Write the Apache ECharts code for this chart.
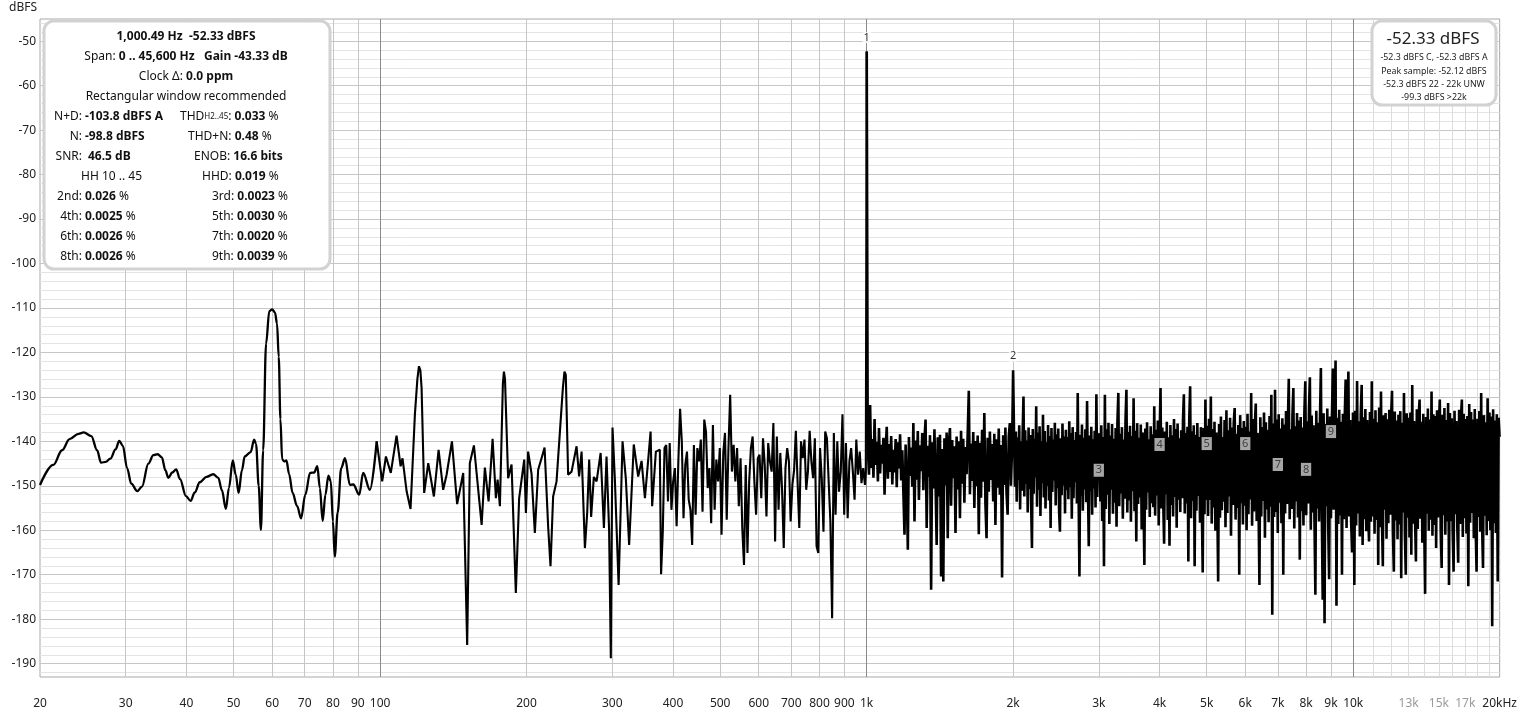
<!DOCTYPE html>
<html><head><meta charset="utf-8">
<script src="https://cdn.jsdelivr.net/npm/echarts@6/dist/echarts.min.js"></script>
<style>html,body{margin:0;padding:0;background:#fff}#c{width:1520px;height:714px}</style>
</head><body><div id="c"></div>
<script>
// ---------- axis ticks ----------
const xTickHz = [20,30,40,50,60,70,80,90,100,200,300,400,500,600,700,800,900,1000,2000,3000,4000,5000,6000,7000,8000,9000,10000,13000,15000,17000,20000];
const xTickText = ['20','30','40','50','60','70','80','90','100','200','300','400','500','600','700','800','900','1k','2k','3k','4k','5k','6k','7k','8k','9k','10k','13k','15k','17k','20kHz'];
const xGrayTicks = [13000,15000,17000];
const xGridHz = [30,40,50,60,70,80,90,200,300,400,500,600,700,800,900,2000,3000,4000,5000,6000,7000,8000,9000];
const xFineGridHz = [11000,12000,13000,14000,15000,16000,17000,18000,19000];
const xDecadeHz = [100,1000,10000];
const yTicks = [-190,-180,-170,-160,-150,-140,-130,-120,-110,-100,-90,-80,-70,-60,-50];

// ---------- spectrum data (Hz, dBFS) ----------
const lowBand = [
[20,-149.8],[21.3,-145.3],[22.2,-142.0],[23.0,-139.5],[24.0,-138.3],[24.6,-138.0],[25.5,-138.8],[26.2,-142.0],[26.7,-144.8],[27.3,-144.6],
[27.9,-143.9],[28.6,-141.8],[29.1,-139.9],[29.6,-141.0],[30.2,-146.0],[30.8,-149.5],[31.7,-151.2],[32.4,-150.2],[33.4,-145.0],[34.2,-143.1],
[34.9,-142.9],[35.6,-143.6],[36.2,-146.5],[36.7,-148.2],[37.4,-147.0],[38.1,-146.3],[38.8,-148.5],[39.9,-152.3],[40.8,-153.4],[41.6,-151.5],
[42.6,-149.2],[44.0,-148.0],[45.4,-147.4],[46.5,-148.2],[47.3,-151.0],[48.2,-155.2],[48.9,-150.5],[49.8,-144.3],[50.5,-147.5],[51.2,-151.6],
[52.0,-146.5],[52.7,-143.4],[54.2,-142.4],[55.1,-139.6],[55.6,-140.6],[56.3,-150.0],[56.9,-159.9],[57.5,-142.0],[58.3,-118.0],[59.2,-110.7],
[60.0,-110.3],[60.8,-111.0],[61.4,-113.5],[61.9,-121.0],[62.4,-135.0],[62.9,-144.0],[63.5,-144.5],[64.2,-144.3],[65.0,-147.3],[66.1,-151.6],[67.5,-154.5],
[68.8,-157.3],[70.2,-152.0],[71.8,-147.1],[73.2,-147.0],[74.3,-145.6],[75.2,-150.5],[76.2,-157.9],[77.2,-152.0],[78.3,-147.7],[79.2,-149.0],
[80.0,-158.0],[80.7,-165.9],[81.8,-156.0],[83.2,-146.0],[84.7,-143.8],[86.7,-149.8],[88.1,-149.7],[90.6,-152.0],[92.3,-147.1],[95.3,-150.9],
[98.4,-140.0]
];
const midBand = [
[98.4,-140.0],[101,-149.0],[102.8,-143.4],[105.2,-147.1],[108.1,-138.7],[110.2,-145.6],[111.2,-143.8],[113.4,-151.3],[115.5,-155.2],[117.9,-134.0],
[119.3,-126.0],[120.2,-123.1],[121.0,-124.0],[121.7,-128.0],[123.2,-151.6],[125.6,-144.9],[129.0,-152.4],[131.9,-141.9],[134.8,-150.9],[137.0,-147.5],
[140.5,-140.0],[144.0,-154.1],[148.2,-147.1],[151.0,-185.8],[152.9,-144.9],[155.9,-140.9],[161.7,-158.8],[164.2,-145.9],[167.1,-153.5],[170.3,-139.4],
[173.0,-152.8],[174.4,-148.6],[176.3,-154.6],[178.8,-127.0],[179.7,-124.3],[180.6,-126.0],[183.3,-148.3],[186.3,-145.2],[190.1,-174.1],[193.1,-152.8],
[197.8,-144.1],[199.4,-156.1],[201.5,-142.3],[204.8,-147.3],[208.0,-160.6],[211.3,-146.4],[214.7,-143.8],[217.8,-141.4],[221.5,-159.1],[224.0,-168.1],
[226.8,-152.4],[230.5,-149.0],[234.2,-137.8],[237.5,-128.0],[239.3,-124.3],[240.8,-125.0],[242.0,-135.0],[243.5,-147.5],[247.5,-146.8],[253.4,-141.1],
[256.5,-147.9],[259.5,-142.3],[263.6,-164.0],[266.5,-156.0],[269.0,-144.1],[271.5,-157.0],[275.0,-148.0],[278.6,-149.0],[284.0,-142.6],[288.4,-159.5],
[292.0,-143.4],[295.6,-160.0],[298.0,-188.8],[300.4,-136.9],[303.7,-148.3],[309.2,-172.3],[315.0,-140.0],[320.0,-148.5],[325.0,-163.3],[332.2,-140.7],
[339.2,-147.9],[344.7,-144.4],[350.2,-152.8],[359.7,-137.8],[362.4,-154.6],[368.8,-142.3],[375.8,-141.9]
];
// dense bands: dBFS readings, evenly spread (log f) over each range
const band1Range = [378, 992];
const band1Db = [
-169.9,-160.3,-141.5,-140.8,-153.5,-140.4,-155.4,-149.0,-146.0,-159.1,
-144.5,-132.7,-140.0,-157.3,-145.3,-142.3,-153.1,-155.4,-163.3,-140.8,
-156.5,-141.5,-144.5,-139.6,-155.8,-135.1,-137.8,-150.5,-146.0,-158.4,
-136.3,-155.4,-144.1,-149.0,-141.5,-161.0,-142.6,-138.1,-157.6,-141.5,
-129.5,-146.8,-140.8,-149.0,-141.5,-154.6,-143.8,-159.5,-167.8,-145.3,
-165.1,-149.0,-141.5,-138.9,-149.0,-156.5,-143.8,-143.0,-152.8,-139.3,
-145.3,-156.9,-140.4,-144.5,-146.8,-135.9,-162.5,-138.9,-155.4,-142.6,
-150.5,-164.0,-146.0,-141.5,-144.5,-158.0,-149.8,-146.4,-137.6,-149.0,
-159.5,-140.0,-143.8,-139.6,-150.9,-146.8,-137.6,-144.5,-148.3,-139.3,
-163.6,-165.1,-141.5,-148.3,-160.3,-137.8,-139.3,-149.0,-158.0,-179.8,
-138.1,-156.5,-140.0,-151.3,-146.8,-133.9,-156.5,-140.4,-157.3,-144.5,
-141.5,-146.8,-153.1,-139.6,-147.5,-142.3,-149.4,-146.0,-149.8
];
const fundamental = [[996,-147.0],[1000.49,-52.33],[1005,-141.0]];
const band2Range = [1006, 1990];
const band2Db = [
-141.2,-147.5,-131.8,-146.0,-139.5,-148.2,-135.0,-145.3,-140.1,-149.0,
-137.0,-147.2,-140.8,-145.0,-139.2,-152.0,-141.5,-136.7,-148.4,-140.6,
-146.9,-138.8,-149.7,-141.9,-147.0,-139.5,-150.3,-140.2,-146.1,-138.4,
-148.8,-142.0,-151.6,-161.0,-140.7,-149.3,-164.4,-139.0,-147.8,-141.4,
-150.2,-135.9,-158.0,-139.8,-148.6,-137.7,-153.2,-140.9,-146.7,-138.1,
-151.0,-139.6,-135.1,-159.5,-141.0,-148.0,-138.6,-173.4,-140.2,-150.6,
-137.3,-149.2,-163.3,-139.1,-152.4,-138.5,-170.4,-141.7,-171.5,-139.3,
-149.9,-138.0,-161.8,-140.4,-137.0,-154.5,-139.7,-148.3,-141.1,-160.6,
-138.9,-150.8,-140.0,-157.3,-137.6,-149.5,-139.4,-153.8,-141.3,-147.4,
-138.2,-128.6,-151.9,-140.5,-148.9,-137.9,-155.0,-139.9,-150.1,-138.7,
-160.9,-140.3,-152.7,-137.4,-149.1,-133.6,-154.2,-161.8,-139.2,-151.3,
-137.8,-148.7,-140.6,-153.5,-138.3,-158.8,-139.5,-150.4,-137.1,-152.0,
-140.8,-170.6,-138.6,-149.8,-136.9,-151.5,-156.5,-139.0,-135.9,-150.0,-141.5
];
const secondHarmonic = [[2000,-124.0]];
const band3Range = [2010, 2990];
const band3Db = [
-140.5,-150.2,-137.8,-153.6,-139.1,-148.7,-136.4,-155.3,-140.0,-151.1,
-138.2,-129.9,-152.4,-137.5,-149.6,-139.8,-156.0,-136.9,-150.7,-138.6,
-153.9,-164.0,-137.2,-151.8,-139.4,-148.1,-132.1,-154.7,-138.0,-150.9,
-136.6,-156.8,-139.9,-149.4,-134.0,-152.6,-137.7,-155.1,-140.2,-150.0,
-136.3,-153.3,-138.8,-159.5,-137.0,-151.4,-139.6,-148.8,-135.8,-154.4,
-138.4,-150.5,-137.1,-155.7,-160.3,-139.3,-152.1,-136.0,-149.9,-138.9,
-156.2,-137.4,-151.0,-139.0,-153.0,-135.5,-150.3,-138.1,-157.4,-136.8,
-152.8,-139.7,-149.2,-137.9,-154.0,-129.1,-151.6,-170.4,-138.5,-152.3,
-136.2,-155.6,-139.2,-150.8,-137.3,-153.7,-130.9,-149.5,-163.6,-138.7,
-151.2,-136.7,-156.5,-139.5,-150.6,-137.6,-154.9,-129.4,-152.5,-139.8
];
const band4aRange = [3010, 4990];
const band4aDb = [
-138.2,-153.5,-136.4,-157.9,-139.0,-168.1,-129.5,-155.2,-137.3,-152.0,
-135.8,-158.6,-138.7,-150.9,-136.1,-156.3,-139.4,-153.8,-137.0,-159.2,
-135.5,-129.1,-154.6,-138.3,-151.7,-136.8,-157.4,-139.6,-152.9,-135.2,
-128.4,-156.0,-137.9,-153.3,-136.5,-158.1,-138.8,-151.2,-130.3,-155.7,
-137.6,-162.5,-135.9,-154.1,-139.2,-152.6,-136.2,-159.8,-138.0,-153.0,
-167.8,-137.1,-155.4,-135.7,-151.5,-139.5,-157.0,-136.6,-153.9,-138.4,
-154.8,-132.1,-156.7,-137.4,-152.2,-135.3,-158.9,-138.9,-128.0,-155.1,
-136.9,-153.6,-163.0,-137.8,-151.9,-135.6,-157.7,-139.1,-163.5,-136.3,
-154.3,-138.6,-156.9,-135.0,-152.5,-137.2,-159.4,-136.0,-153.1,-139.3,
-155.9,-137.5,-152.8,-135.4,-129.4,-156.2,-138.1,-154.0,-136.7,-167.0,
-135.1,-127.6,-157.3,-137.7,-153.4,-136.4,-168.1,-138.5,-155.6,-135.9,
-152.3,-139.0,-158.3,-136.8,-154.7,-169.5,-137.0,-156.4,-130.6,-153.2
];
const band4bRange = [5010, 9990];
const band4bDb = [
-136.5,-156.8,-134.9,-153.2,-129.9,-158.5,-137.2,-154.9,-135.6,-160.1,
-138.0,-152.7,-171.5,-136.1,-157.2,-134.4,-155.5,-139.0,-153.6,-135.2,
-159.3,-133.0,-156.1,-137.5,-152.4,-134.7,-161.2,-136.9,-154.3,-135.8,
-132.5,-157.6,-138.3,-155.0,-136.3,-170.0,-134.1,-153.9,-137.0,-158.7,
-135.4,-154.5,-136.7,-160.0,-133.8,-156.4,-137.8,-153.1,-129.1,-159.0,
-135.0,-155.8,-136.4,-131.5,-157.9,-138.1,-154.2,-172.3,-134.6,-156.9,
-136.8,-153.4,-133.5,-161.7,-135.7,-155.3,-137.4,-158.2,-134.3,-154.7,
-129.5,-179.0,-136.0,-157.0,-128.4,-155.9,-135.1,-160.6,-133.9,-153.8,
-137.1,-158.4,-134.8,-170.0,-136.2,-156.2,-133.2,-154.1,-135.9,-125.9,
-157.5,-137.3,-155.2,-134.0,-128.0,-159.6,-136.6,-153.5,-133.6,-157.1,
-135.3,-166.6,-134.5,-155.7,-136.9,-158.9,-133.4,-126.5,-156.6,-135.5,
-154.0,-132.8,-125.6,-159.9,-134.2,-156.0,-136.4,-157.8,-174.5,-133.1,
-155.1,-135.8,-158.0,-134.9,-123.5,-156.3,-175.6,-133.7,-180.9,-136.1,
-154.6,-132.6,-159.2,-171.0,-134.4,-157.3,-135.0,-123.6,-155.4,-133.3,
-121.8,-177.0,-134.7,-158.6,-132.9,-156.7,-135.6,-170.0,-133.8,-157.5,
-134.6,-126.1,-159.5,-133.0,-124.3,-156.9,-135.2,-158.1,-165.0,-133.5
];
const band4cRange = [10010, 19990];
const band4cDb = [
-134.8,-172.3,-133.1,-158.9,-126.4,-156.2,-135.5,-161.4,-133.9,-127.3,
-163.3,-134.6,-157.5,-132.7,-160.2,-135.2,-155.8,-162.5,-133.4,-158.1,
-126.5,-156.9,-134.9,-160.8,-133.0,-157.7,-135.7,-167.8,-132.4,-159.3,
-128.8,-157.0,-168.1,-134.1,-155.4,-133.6,-161.9,-135.0,-158.4,-132.9,
-156.5,-134.4,-128.6,-160.5,-169.3,-133.3,-157.8,-135.3,-162.0,-134.0,
-158.7,-133.2,-170.8,-135.8,-156.0,-129.1,-160.9,-170.0,-133.7,-157.2,
-134.7,-161.6,-133.5,-165.5,-127.3,-158.5,-135.4,-156.8,-167.0,-132.8,
-159.7,-134.2,-130.6,-157.4,-135.6,-162.8,-133.8,-158.2,-174.3,-134.5,
-156.3,-132.6,-160.1,-135.1,-157.6,-128.8,-161.2,-133.9,-158.8,-134.3,
-164.0,-133.0,-157.1,-135.9,-130.6,-159.8,-168.5,-134.0,-156.6,-132.5,
-161.0,-135.2,-158.0,-131.4,-172.3,-133.6,-157.9,-134.8,-160.4,-169.3,
-133.1,-156.4,-135.4,-159.1,-167.3,-132.9,-158.6,-134.6,-130.6,-161.5,
-133.8,-157.3,-135.0,-160.7,-134.3,-172.6,-131.6,-158.3,-133.4,-156.1,
-135.1,-161.8,-132.7,-159.4,-169.3,-134.9,-157.0,-133.2,-160.3,-129.1,
-158.9,-168.5,-134.1,-156.7,-135.7,-161.1,-130.3,-157.9,-133.5,-160.0,
-134.4,-181.6,-132.8,-158.4,-135.3,-160.6,-133.9,-171.5,-134.7,-139.0
];
const peakMarks = [[1000.49,-52.33,'1'],[2000,-124.0,'2']];
const harmonicHz = [3000,4000,5000,6000,7000,8000,9000];
const harmonicLabelDb = [-146.5,-140.7,-140.5,-140.5,-145.2,-146.3,-137.8];

// ---------- build ----------
const L = Math.log10;
function band(range, vals) {
  const a = L(range[0]), b = L(range[1]), n = vals.length;
  return vals.map((v, i) => [a + (b - a) * i / (n - 1), v]);
}
const toXY = arr => arr.map(p => [L(p[0]), p[1]]);
const lowData = toXY(lowBand);
const midData = [].concat(toXY(midBand), band(band1Range, band1Db), toXY(fundamental.slice(0, 2)));
const highData = [].concat(
  toXY(fundamental.slice(1)),
  band(band2Range, band2Db), toXY(secondHarmonic), band(band3Range, band3Db),
  band(band4aRange, band4aDb), band(band4bRange, band4bDb), band(band4cRange, band4cDb)
);
const yMinor = [];
for (let v = -192; v <= -46; v += 2) { if (v % 10 !== 0) yMinor.push(v); }

const FONT = 'Noto Sans';
const XMIN = L(20), XMAX = L(20000);
function xFmt(v) {
  let idx = 0, best = 1e9;
  xTickHz.forEach((h, i) => { const d = Math.abs(L(h) - v); if (d < best) { best = d; idx = i; } });
  const t = xTickText[idx];
  return xGrayTicks.indexOf(xTickHz[idx]) >= 0 ? '{g|' + t + '}' : '{n|' + t + '}';
}
function gridX(vals, color) {
  return { type: 'value', min: XMIN, max: XMAX, position: 'bottom', show: true,
    axisLine: { show: false }, axisLabel: { show: false },
    axisTick: { show: false, customValues: vals.map(L) },
    splitLine: { show: true, lineStyle: { color: color, width: 1 } } };
}
const chart = echarts.init(document.getElementById('c'), null, { renderer: 'canvas' });
const B = { fontWeight: 'bold', fontSize: 12, fontFamily: FONT, color: '#111' };
const R = { fontWeight: 'normal', fontSize: 12, fontFamily: FONT, color: '#111' };
const S = { fontWeight: 'normal', fontSize: 8, fontFamily: FONT, color: '#111' };
const rich = { b: B, r: R, s: S };
function T(x, y, text, align) {
  return { type: 'text', x: x, y: y, z: 101,
    style: { text: text, rich: rich, fontSize: 12, fontFamily: FONT, fill: '#111', align: align || 'center', verticalAlign: 'middle' } };
}
function ST(x, y, text, size, sx) {
  return { type: 'text', x: x, y: y, z: 101, scaleX: sx, style: { text: text, fontSize: size, fontFamily: FONT, fill: '#222', align: 'center', verticalAlign: 'middle' } };
}
const rows = [37,57,77,97,117,137,157,177,197,217,237,257];
const graphics = [
  { type: 'text', x: 9, y: 8, z: 101, style: { text: 'dBFS', fontSize: 12, fontFamily: FONT, fill: '#222', align: 'left', verticalAlign: 'middle' } },
  { type: 'rect', z: 100, shape: { x: 44, y: 21, width: 286, height: 248, r: 10 }, style: { fill: '#fff', stroke: '#d2d2d2', lineWidth: 3 } },
  T(186, rows[0], '{b|1,000.49 Hz  -52.33 dBFS}'),
  T(186, rows[1], '{r|Span: }{b|0 .. 45,600 Hz   Gain -43.33 dB}'),
  T(186, rows[2], '{r|Clock Δ: }{b|0.0 ppm}'),
  T(186, rows[3], '{r|Rectangular window recommended}'),
  T(82, rows[4], '{r|N+D:}', 'right'), T(85, rows[4], '{b|-103.8 dBFS A}', 'left'),
  T(82, rows[5], '{r|N:}', 'right'), T(85, rows[5], '{b|-98.8 dBFS}', 'left'),
  T(82, rows[6], '{r|SNR:}', 'right'), T(88, rows[6], '{b|46.5 dB}', 'left'),
  T(81, rows[7], '{r|HH 10 .. 45}', 'left'),
  T(82, rows[8], '{r|2nd:}', 'right'), T(85, rows[8], '{b|0.026}{r| %}', 'left'),
  T(82, rows[9], '{r|4th:}', 'right'), T(85, rows[9], '{b|0.0025}{r| %}', 'left'),
  T(82, rows[10], '{r|6th:}', 'right'), T(85, rows[10], '{b|0.0026}{r| %}', 'left'),
  T(82, rows[11], '{r|8th:}', 'right'), T(85, rows[11], '{b|0.0026}{r| %}', 'left'),
  T(180, rows[4], '{r|THD}{s|H2..45}{r|: }{b|0.033}{r| %}', 'left'),
  T(188, rows[5], '{r|THD+N: }{b|0.48}{r| %}', 'left'),
  T(194, rows[6], '{r|ENOB: }{b|16.6 bits}', 'left'),
  T(202, rows[7], '{r|HHD: }{b|0.019}{r| %}', 'left'),
  T(212, rows[8], '{r|3rd: }{b|0.0023}{r| %}', 'left'),
  T(212, rows[9], '{r|5th: }{b|0.0030}{r| %}', 'left'),
  T(212, rows[10], '{r|7th: }{b|0.0020}{r| %}', 'left'),
  T(212, rows[11], '{r|9th: }{b|0.0039}{r| %}', 'left'),
  { type: 'rect', z: 100, shape: { x: 1372, y: 21, width: 124, height: 84, r: 10 }, style: { fill: '#fff', stroke: '#d2d2d2', lineWidth: 3 } },
  ST(1433, 39, '-52.33 dBFS', 17, 1),
  ST(1434, 57, '-52.3 dBFS C, -52.3 dBFS A', 9.5, 0.93),
  ST(1434, 71, 'Peak sample: -52.12 dBFS', 9.5, 0.93),
  ST(1434, 84, '-52.3 dBFS 22 - 22k UNW', 9.5, 0.93),
  ST(1434, 97, '-99.3 dBFS >22k', 9.5, 0.93)
];

chart.setOption({
  animation: false,
  backgroundColor: '#fff',
  grid: { left: 40, right: 20, top: 19, bottom: 37, show: true, borderColor: '#a8a8a8', borderWidth: 1, backgroundColor: '#fff' },
  xAxis: [
    gridX(xFineGridHz, '#dcdcdc'),
    { type: 'value', min: XMIN, max: XMAX, position: 'bottom',
      axisLine: { show: false },
      axisTick: { show: false, customValues: xGridHz.map(L) },
      splitLine: { show: true, lineStyle: { color: '#c6c6c6', width: 1 } },
      axisLabel: { customValues: xTickHz.map(L), formatter: xFmt, margin: 21,
        rich: { n: { color: '#222', fontSize: 12, fontFamily: FONT }, g: { color: '#9a9a9a', fontSize: 12, fontFamily: FONT } } } },
    gridX(xDecadeHz, '#8a8a8a')
  ],
  yAxis: [
    { type: 'value', min: -193, max: -45, position: 'left', axisLine: { show: false }, axisLabel: { show: false },
      axisTick: { show: false, customValues: yMinor }, splitLine: { show: true, lineStyle: { color: '#e4e4e4', width: 1 } } },
    { type: 'value', min: -193, max: -45, position: 'left', axisLine: { show: false },
      axisTick: { show: false, customValues: yTicks },
      axisLabel: { customValues: yTicks, margin: 4, color: '#222', fontSize: 12, fontFamily: FONT },
      splitLine: { show: true, lineStyle: { color: '#c6c6c6', width: 1 } } }
  ],
  series: [
    { type: 'line', xAxisIndex: 1, yAxisIndex: 1, data: lowData, smooth: 0.35, smoothMonotone: 'x', showSymbol: false, symbol: 'none',
      lineStyle: { color: '#000', width: 2.3 }, z: 3, silent: true },
    { type: 'line', xAxisIndex: 1, yAxisIndex: 1, data: midData, showSymbol: false, symbol: 'none',
      lineStyle: { color: '#000', width: 2.1 }, z: 3, silent: true },
    { type: 'line', xAxisIndex: 1, yAxisIndex: 1, data: highData, showSymbol: false, symbol: 'none',
      lineStyle: { color: '#000', width: 2.6 }, z: 3, silent: true },
    { type: 'scatter', xAxisIndex: 1, yAxisIndex: 1, z: 5, silent: true, symbolSize: 1,
      itemStyle: { color: 'rgba(0,0,0,0)' },
      data: peakMarks.map(p => [L(p[0]), p[1], p[2]]),
      label: { show: true, position: 'top', distance: 8, formatter: p => p.data[2], color: '#000', fontSize: 11, fontFamily: FONT, backgroundColor: '#fff', padding: [0, 1] } },
    { type: 'scatter', xAxisIndex: 1, yAxisIndex: 1, z: 5, silent: true, symbolSize: 1,
      itemStyle: { color: 'rgba(0,0,0,0)' },
      data: harmonicHz.map((h, i) => [L(h), harmonicLabelDb[i]]),
      label: { show: true, position: 'inside', formatter: p => String(p.dataIndex + 3), color: '#222', fontSize: 11, fontFamily: FONT, backgroundColor: '#cfcfcf', padding: [0, 2], lineHeight: 13 } }
  ],
  graphic: graphics
});
</script></body></html>
